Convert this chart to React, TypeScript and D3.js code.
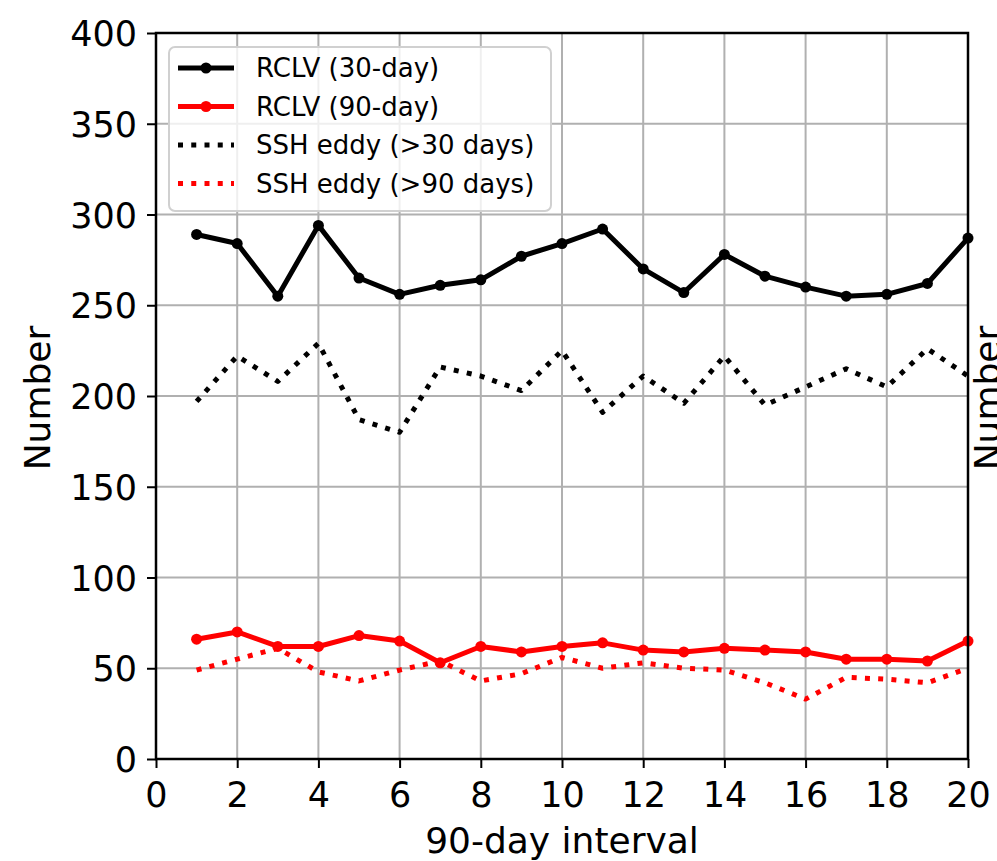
import React, { useEffect, useRef } from "react";
import * as d3 from "d3";

const intervals = [1, 2, 3, 4, 5, 6, 7, 8, 9, 10, 11, 12, 13, 14, 15, 16, 17, 18, 19, 20];
const rclv30 = [289, 284, 255, 294, 265, 256, 261, 264, 277, 284, 292, 270, 257, 278, 266, 260, 255, 256, 262, 287];
const rclv90 = [66, 70, 62, 62, 68, 65, 53, 62, 59, 62, 64, 60, 59, 61, 60, 59, 55, 55, 54, 65];
const ssh30 = [197, 222, 208, 229, 187, 180, 216, 211, 203, 225, 191, 211, 196, 222, 195, 205, 215, 205, 226, 211];
const ssh90 = [49, 55, 61, 48, 43, 49, 54, 43, 47, 56, 50, 53, 50, 49, 42, 33, 45, 44, 42, 50];
const xTicks = [0, 2, 4, 6, 8, 10, 12, 14, 16, 18, 20];
const yTicks = [0, 50, 100, 150, 200, 250, 300, 350, 400];
const legendLabels = ["RCLV (30-day)", "RCLV (90-day)", "SSH eddy (>30 days)", "SSH eddy (>90 days)"];

function App() {
  const svgRef = useRef(null);

  useEffect(() => {
    const svg = d3.select(svgRef.current);
    svg.selectAll("*").remove();

    const W = 997;
    const H = 861;
    const margin = { top: 33, right: 29, bottom: 102, left: 156 };
    const width = W - margin.left - margin.right;
    const height = H - margin.top - margin.bottom;
    const font = "DejaVu Sans, Verdana, sans-serif";

    svg.attr("width", W).attr("height", H);

    const g = svg.append("g").attr("transform", `translate(${margin.left}, ${margin.top})`);

    const x = d3.scaleLinear().domain([0, 20]).range([0, width]);
    const y = d3.scaleLinear().domain([0, 400]).range([height, 0]);

    // grid
    g.append("g")
      .selectAll("line")
      .data(xTicks)
      .enter()
      .append("line")
      .attr("x1", (d) => x(d))
      .attr("x2", (d) => x(d))
      .attr("y1", 0)
      .attr("y2", height)
      .attr("stroke", "#b0b0b0")
      .attr("stroke-width", 2);

    g.append("g")
      .selectAll("line")
      .data(yTicks)
      .enter()
      .append("line")
      .attr("x1", 0)
      .attr("x2", width)
      .attr("y1", (d) => y(d))
      .attr("y2", (d) => y(d))
      .attr("stroke", "#b0b0b0")
      .attr("stroke-width", 2);

    // axes
    const xAxis = g
      .append("g")
      .attr("transform", `translate(0, ${height})`)
      .call(d3.axisBottom(x).tickValues(xTicks).tickSize(9).tickPadding(4).tickFormat(d3.format("d")));
    const yAxis = g.append("g").call(d3.axisLeft(y).tickValues(yTicks).tickSize(9).tickPadding(10).tickFormat(d3.format("d")));

    [xAxis, yAxis].forEach((ax) => {
      ax.select(".domain").remove();
      ax.selectAll(".tick line").attr("stroke", "#000").attr("stroke-width", 2);
      ax.selectAll(".tick text").attr("font-family", font).attr("font-size", 35).attr("fill", "#000");
    });
    xAxis.selectAll(".tick text").attr("dy", null).attr("y", 48);
    yAxis.selectAll(".tick text").attr("dy", "0.36em");

    const line = d3
      .line<number>()
      .x((d, i) => x(intervals[i]))
      .y((d) => y(d));

    const series = [
      { values: rclv30, color: "#000", dotted: false },
      { values: rclv90, color: "#ff0000", dotted: false },
      { values: ssh30, color: "#000", dotted: true },
      { values: ssh90, color: "#ff0000", dotted: true },
    ];

    const clip = g.append("g");

    series.forEach((s) => {
      clip
        .append("path")
        .datum(s.values)
        .attr("d", line)
        .attr("fill", "none")
        .attr("stroke", s.color)
        .attr("stroke-width", s.dotted ? 5 : 5)
        .attr("stroke-dasharray", s.dotted ? "5 8.25" : null)
        .attr("stroke-linejoin", "round");
      if (!s.dotted) {
        clip
          .append("g")
          .selectAll("circle")
          .data(s.values)
          .enter()
          .append("circle")
          .attr("cx", (d, i) => x(intervals[i]))
          .attr("cy", (d) => y(d))
          .attr("r", 5.5)
          .attr("fill", s.color);
      }
    });

    // frame
    g.append("rect")
      .attr("width", width)
      .attr("height", height)
      .attr("fill", "none")
      .attr("stroke", "#000")
      .attr("stroke-width", 2.5);

    // legend
    const leg = svg.append("g").attr("transform", "translate(169, 47)");
    leg
      .append("rect")
      .attr("width", 382)
      .attr("height", 164)
      .attr("rx", 6)
      .attr("fill", "#fff")
      .attr("fill-opacity", 0.8)
      .attr("stroke", "#d0d0d0")
      .attr("stroke-width", 2);

    legendLabels.forEach((label, i) => {
      const s = series[i];
      const cy = 21 + i * 38.5;
      leg
        .append("line")
        .attr("x1", 9)
        .attr("x2", 65)
        .attr("y1", cy)
        .attr("y2", cy)
        .attr("stroke", s.color)
        .attr("stroke-width", 5)
        .attr("stroke-dasharray", s.dotted ? "5 8.25" : null);
      if (!s.dotted) {
        leg.append("circle").attr("cx", 37).attr("cy", cy).attr("r", 5.5).attr("fill", s.color);
      }
      leg
        .append("text")
        .attr("x", 87)
        .attr("y", cy)
        .attr("dy", "0.36em")
        .attr("font-family", font)
        .attr("font-size", 26)
        .text(label);
    });

    // axis labels
    svg
      .append("text")
      .attr("text-anchor", "middle")
      .attr("x", margin.left + width / 2)
      .attr("y", 853)
      .attr("font-family", font)
      .attr("font-size", 36)
      .text("90-day interval");

    svg
      .append("text")
      .attr("text-anchor", "middle")
      .attr("transform", "translate(50, 398) rotate(-90)")
      .attr("font-family", font)
      .attr("font-size", 36)
      .text("Number");

    // label of the next panel, cut off at the edge
    svg
      .append("text")
      .attr("text-anchor", "middle")
      .attr("transform", "translate(1000, 398) rotate(-90)")
      .attr("font-family", font)
      .attr("font-size", 36)
      .text("Number");
  }, []);

  return (
    <div style={{ position: "absolute", left: 0, top: 0 }}>
      <svg ref={svgRef} style={{ display: "block" }}></svg>
    </div>
  );
}

export default App;
